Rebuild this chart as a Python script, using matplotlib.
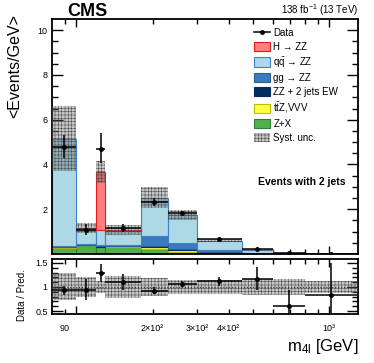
import matplotlib
matplotlib.use("Agg")
import matplotlib.pyplot as plt
import numpy as np
from matplotlib.patches import Patch
from matplotlib.lines import Line2D

plt.rcParams['font.family'] = ['Liberation Sans', 'DejaVu Sans']
plt.rcParams['mathtext.fontset'] = 'custom'
plt.rcParams['mathtext.rm'] = 'Liberation Sans'
plt.rcParams['mathtext.it'] = 'Liberation Sans:italic'
plt.rcParams['hatch.linewidth'] = 0.35

# m4l bin edges (GeV)
edges = [80, 100, 120, 130, 180, 230, 300, 450, 600, 800, 1300]

# stacked backgrounds, <Events/GeV>, bottom to top
zx = [0.29, 0.39, 0.32, 0.33, 0.24, 0.09, 0.02, 0.005, 0.002, 0.0005]
ttz_vvv = [0.01, 0.01, 0.01, 0.01, 0.08, 0.08, 0.03, 0.01, 0.004, 0.001]
zz_ew = [0.02, 0.02, 0.02, 0.02, 0.04, 0.04, 0.02, 0.01, 0.004, 0.002]
gg_zz = [0.05, 0.03, 0.03, 0.03, 0.43, 0.26, 0.10, 0.03, 0.01, 0.002]
qq_zz = [4.78, 0.65, 0.68, 0.64, 1.73, 1.27, 0.43, 0.125, 0.03, 0.0065]
h_zz = [0.0, 0.05, 2.61, 0.03, 0.0, 0.0, 0.0, 0.0, 0.0, 0.0]

# relative systematic uncertainty per bin
syst_rel = [0.28, 0.20, 0.13, 0.22, 0.18, 0.14, 0.14, 0.17, 0.17, 0.12]

# data
data = [4.78, 1.07, 4.71, 1.17, 2.33, 1.84, 0.67, 0.21, 0.03, 0.01]
data_up = [0.52, 0.27, 0.68, 0.17, 0.19, 0.10, 0.06, 0.045, 0.017, 0.008]
data_dn = [0.49, 0.22, 0.64, 0.18, 0.20, 0.10, 0.06, 0.04, 0.017, 0.008]

components = [
    (zx, '#52B04C', '#2E7D32', 'Z+X'),
    (ttz_vvv, '#FFFF40', '#BDBD00', r't$\bar{\mathrm{t}}$Z,VVV'),
    (zz_ew, '#002D5E', '#002D5E', 'ZZ + 2 jets EW'),
    (gg_zz, '#3A7BBF', '#2B5F96', 'gg → ZZ'),
    (qq_zz, '#ADD8E6', '#3E82C4', r'q$\bar{\mathrm{q}}$ → ZZ'),
    (h_zz, '#FF7F7F', '#E41A1C', 'H → ZZ'),
]

edges_a = np.array(edges, dtype=float)
widths = np.diff(edges_a)
centers = np.sqrt(edges_a[:-1] * edges_a[1:])
xerr = [centers - edges_a[:-1], edges_a[1:] - centers]

fig = plt.figure(figsize=(3.74, 3.63), dpi=100)
ax = fig.add_axes([0.139, 0.3003, 0.818, 0.6474])
rax = fig.add_axes([0.139, 0.135, 0.818, 0.1515])

# stacked histogram
base = np.zeros(len(data))
for vals, fc, ec, lab in components:
    vals = np.array(vals)
    lws = [0.8 if v > 0 else 0 for v in vals]
    ax.bar(edges_a[:-1], vals, width=widths, bottom=base, align='edge', color=fc,
           edgecolor=ec, linewidth=lws, zorder=2)
    base = base + vals
total = base

# syst band
hatch_kw = dict(fill=True, facecolor=(0.35, 0.35, 0.35, 0.35), edgecolor='#444444',
                hatch='+++++', lw=0, zorder=3)
err = total * np.array(syst_rel)
ax.stairs(total + err, edges, baseline=total - err, **hatch_kw)

# data
ax.errorbar(centers, data, xerr=xerr, yerr=[data_dn, data_up], fmt='o', color='k',
            ms=2.5, lw=1.1, capsize=0, zorder=5)

ax.set_xscale('log')
ax.set_xlim(80, 1300)
ax.set_ylim(0, 10.5)
ax.set_yticks([2, 4, 6, 8, 10])
ax.set_yticks(np.arange(0.5, 10.5, 0.5), minor=True)

# ratio panel
ratio = np.array(data) / total
r_up = np.array(data_up) / total
r_dn = np.array(data_dn) / total
rel = np.array(syst_rel)
rax.stairs(1 + rel, edges, baseline=1 - rel, **hatch_kw)
rax.axhline(1, color='#333333', ls=':', lw=0.8, zorder=3)
rax.errorbar(centers, ratio, xerr=xerr, yerr=[r_dn, r_up], fmt='o', color='k',
             ms=2.5, lw=1.1, capsize=0, zorder=5)
rax.set_xscale('log')
rax.set_xlim(80, 1300)
rax.set_ylim(0.44, 1.58)
rax.set_yticks([0.5, 1, 1.5])
rax.set_yticklabels(['0.5', '1', '1.5'])
rax.set_yticks(np.arange(0.5, 1.55, 0.1), minor=True)

for a in (ax, rax):
    a.set_xticks([100, 1000])
    a.set_xticks([90, 200, 300, 400, 500, 600, 700, 800, 900], minor=True)
    a.tick_params(which='both', direction='in', top=True, right=True, labelsize=6.5,
                  width=1.0, pad=3)
    a.tick_params(which='major', length=6)
    a.tick_params(which='minor', length=3.5)
    a.tick_params(axis='y', which='major', length=8)
    a.tick_params(axis='y', which='minor', length=4)
    for s in a.spines.values():
        s.set_linewidth(1.3)

ax.set_xticklabels(['', ''])
ax.set_xticklabels([''] * 9, minor=True)
rax.set_xticklabels(['', '10³'])
rax.set_xticklabels(['90', '2×10²', '3×10²', '4×10²', '', '', '', '', ''], minor=True)
rax.tick_params(axis='x', which='both', pad=7)

# texts
fig.text(67 / 374, 1 - 16 / 363, 'CMS', fontsize=13, fontweight='bold', ha='left',
         va='baseline')
fig.text(358 / 374, 1 - 14 / 363, r'138 fb$^{-1}$ (13 TeV)', fontsize=7, ha='right',
         va='baseline')
fig.text(15 / 374, 1 - 66 / 363, '<Events/GeV>', fontsize=11.5, rotation=90,
         ha='center', va='center')
fig.text(22 / 374, 1 - 295 / 363, 'Data / Pred.', fontsize=7, rotation=90,
         ha='center', va='center')
fig.text(358 / 374, 1 - 351 / 363, r'm$_{\mathrm{4l}}$ [GeV]', fontsize=12, ha='right',
         va='baseline')
fig.text(345 / 374, 1 - 185 / 363, 'Events with 2 jets', fontsize=7.5, fontweight='bold',
         ha='right', va='baseline')

# legend
handles = [Line2D([], [], color='k', marker='o', ms=2.5, lw=1.1)]
labels = ['Data']
for vals, fc, ec, lab in reversed(components):
    handles.append(Patch(facecolor=fc, edgecolor=ec, lw=0.8))
    labels.append(lab)
handles.append(Patch(facecolor=(0.35, 0.35, 0.35, 0.35), edgecolor='#444444', hatch='+++++',
                     lw=0))
labels.append('Syst. unc.')
ax.legend(handles, labels, loc='upper left', bbox_to_anchor=(254 / 374, 1 - 28 / 363),
          bbox_transform=fig.transFigure, frameon=False, fontsize=7, borderpad=0,
          borderaxespad=0, handlelength=1.65, handleheight=1.1, handletextpad=0.35,
          labelspacing=0.38)

fig.savefig('out.png', dpi=100)
